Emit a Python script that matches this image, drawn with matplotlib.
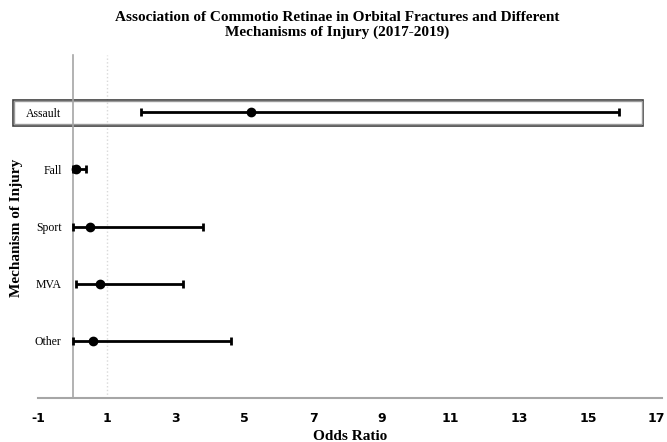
import matplotlib
matplotlib.use("Agg")
import matplotlib.pyplot as plt
from matplotlib.patches import Rectangle


# Data
categories = ["Assault", "Fall", "Sport", "MVA", "Other"]
odds_ratio = [5.2, 0.1, 0.5, 0.8, 0.6]
ci_lower = [2.0, 0.0, 0.0, 0.1, 0.0]
ci_upper = [15.9, 0.4, 3.8, 3.2, 4.6]
x_ticks = [-1, 1, 3, 5, 7, 9, 11, 13, 15, 17]

serif = "Liberation Serif"

fig = plt.figure(figsize=(6.67, 4.42), dpi=100)
ax = fig.add_axes([0.0574, 0.0995, 0.935, 0.776])

y_pos = list(range(len(categories), 0, -1))
err_low = [o - l for o, l in zip(odds_ratio, ci_lower)]
err_high = [u - o for o, u in zip(odds_ratio, ci_upper)]

ax.errorbar(odds_ratio, y_pos, xerr=[err_low, err_high], fmt="o",
            color="black", ecolor="black", markersize=6, elinewidth=2,
            capsize=3, capthick=2, zorder=3)

# reference line at OR = 1
ax.axvline(1, color="#d9d9d9", linestyle=":", linewidth=1, zorder=1)

ax.set_xlim(-1, 17.15)
ax.set_ylim(0, 6)
ax.set_xticks(x_ticks)
ax.set_xticklabels([str(t) for t in x_ticks], fontweight="bold", fontsize=9)
ax.set_yticks(y_pos)
ax.set_yticklabels(categories)
ax.tick_params(axis="both", length=0)
ax.tick_params(axis="y", pad=8, labelsize=8.5, labelfontfamily=serif)
ax.tick_params(axis="x", pad=10)

ax.spines["top"].set_visible(False)
ax.spines["right"].set_visible(False)
ax.spines["left"].set_position(("data", 0))
ax.spines["left"].set_color("#a6a6a6")
ax.spines["left"].set_linewidth(1.2)
ax.spines["bottom"].set_color("#a6a6a6")
ax.spines["bottom"].set_linewidth(1.5)

# box highlighting the Assault row (double outline)
ax.add_patch(Rectangle((-1.74, 4.76), 18.35, 0.46, fill=False,
                       edgecolor="#404040", linewidth=1.2, clip_on=False,
                       zorder=2))
ax.add_patch(Rectangle((-1.70, 4.785), 18.27, 0.41, fill=False,
                       edgecolor="#9a9a9a", linewidth=1.0, clip_on=False,
                       zorder=2))

ax.set_xlabel("Odds Ratio", fontfamily=serif, fontweight="bold", fontsize=11,
              labelpad=4)
fig.text(0.024, 1 - 228 / 442, "Mechanism of Injury", rotation=90, ha="center",
         va="center", fontfamily=serif, fontweight="bold", fontsize=11)

fig.text(0.505, 1 - 11 / 442,
         "Association of Commotio Retinae in Orbital Fractures and Different\n"
         "Mechanisms of Injury (2017-2019)",
         ha="center", va="top", fontfamily=serif, fontweight="bold",
         fontsize=11, linespacing=1.1)

plt.savefig("out.png", dpi=100)
